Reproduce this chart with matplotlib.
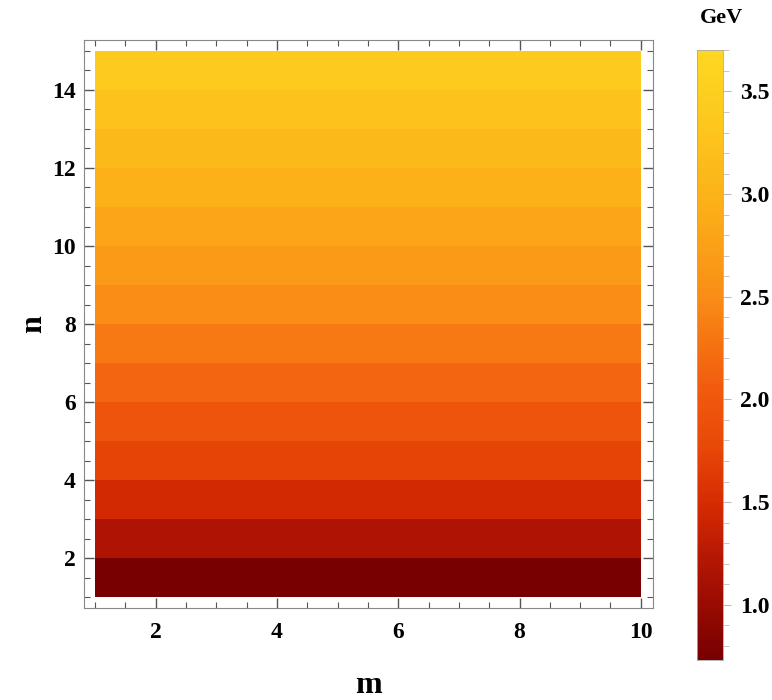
import numpy as np
import matplotlib
matplotlib.use("Agg")
import matplotlib.pyplot as plt
from matplotlib.colors import LinearSegmentedColormap, Normalize
from matplotlib.ticker import MultipleLocator

plt.rcParams['font.family'] = ['Liberation Serif', 'DejaVu Serif']
plt.rcParams['font.weight'] = 'bold'

# data: one value (GeV) per band n..n+1, constant along m
m_edges = [1, 10]
n_edges = list(range(1, 16))
band_vals = [0.73, 1.17, 1.47, 1.73, 1.95, 2.15, 2.33, 2.50, 2.66,
             2.81, 2.96, 3.11, 3.26, 3.42]
vmin, vmax = 0.73, 3.70

cmap = LinearSegmentedColormap.from_list("solar", [
    (0.00, "#780000"), (0.15, "#B01404"), (0.25, "#D42A02"),
    (0.35, "#E84808"), (0.45, "#F25C0E"), (0.60, "#F98E16"),
    (0.75, "#FCB018"), (0.90, "#FDCA1E"), (1.00, "#FED722")])

fig = plt.figure(figsize=(7.72, 7.0), dpi=100, facecolor='white')
ax = fig.add_axes([0.1088, 0.1314, 0.737, 0.8114])

Z = np.array(band_vals).reshape(-1, 1)
norm = Normalize(vmin=vmin, vmax=vmax)
ax.pcolormesh(m_edges, n_edges, Z, cmap=cmap, norm=norm, shading='flat')

ax.set_xlim(0.82, 10.2)
ax.set_ylim(0.72, 15.28)
ax.xaxis.set_major_locator(MultipleLocator(2))
ax.xaxis.set_minor_locator(MultipleLocator(0.5))
ax.yaxis.set_major_locator(MultipleLocator(2))
ax.yaxis.set_minor_locator(MultipleLocator(0.5))
ax.tick_params(which='both', direction='in', top=True, right=True,
               color='#555555', labelsize=17)
ax.tick_params(which='major', length=7, width=1)
ax.tick_params(which='minor', length=4, width=0.8)
ax.tick_params(axis='x', pad=10)
ax.tick_params(axis='y', pad=6)
for s in ax.spines.values():
    s.set_color('#888888')
ax.set_xlabel('m', fontsize=23, fontweight='bold', labelpad=20)
ax.set_ylabel('n', fontsize=23, fontweight='bold', labelpad=3)

# colorbar
cax = fig.add_axes([0.903, 0.057, 0.0337, 0.871])
grad = np.linspace(vmin, vmax, 300).reshape(-1, 1)
cax.pcolormesh([0, 1], np.linspace(vmin, vmax, 301), grad, cmap=cmap, norm=norm)
cax.set_ylim(vmin, vmax)
cax.set_xlim(0, 1)
cax.set_xticks([])
cax.yaxis.tick_right()
cax.yaxis.set_major_locator(MultipleLocator(0.5))
cax.yaxis.set_minor_locator(MultipleLocator(0.1))
cax.yaxis.set_major_formatter(matplotlib.ticker.FormatStrFormatter('%.1f'))
cax.tick_params(which='both', direction='out', color='#bbbbbb', labelsize=17)
cax.tick_params(which='major', length=6, width=0.8, pad=6)
cax.tick_params(which='minor', length=4, width=0.6)
for s in cax.spines.values():
    s.set_color('#aaaaaa')
    s.set_linewidth(0.6)
fig.text(0.935, 0.974, 'GeV', fontsize=16, fontweight='bold', ha='center', va='center')

fig.savefig('out.png', dpi=100, facecolor='white')
